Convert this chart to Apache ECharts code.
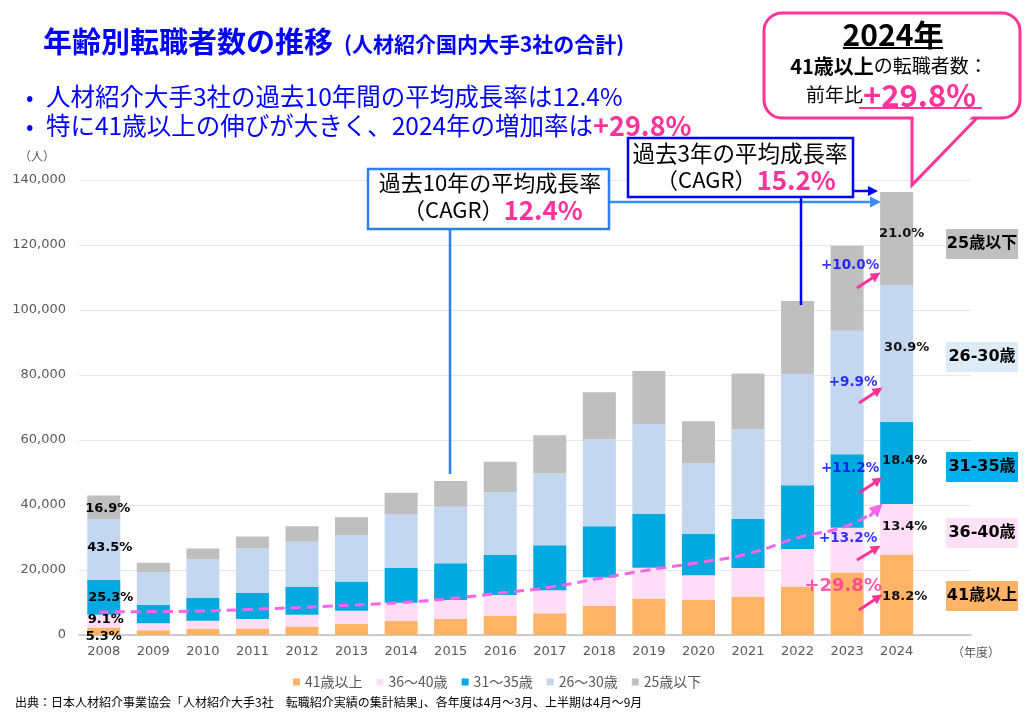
<!DOCTYPE html>
<html>
<head>
<meta charset="utf-8">
<script src="https://cdn.jsdelivr.net/npm/echarts@6/dist/echarts.min.js"></script>
<style>
  html, body { margin: 0; padding: 0; background: #fff; }
  #chart { width: 1031px; height: 720px; }
</style>
</head>
<body>
<div id="chart"></div>
<script>
// 年度
const years = ['2008', '2009', '2010', '2011', '2012', '2013', '2014', '2015', '2016',
  '2017', '2018', '2019', '2020', '2021', '2022', '2023', '2024'];
const ageGroups = ['41歳以上', '36～40歳', '31～35歳', '26～30歳', '25歳以下'];

// 転職者数（人）
const over41 = [2300, 1500, 1900, 2000, 2600, 3400, 4300, 4900, 5900, 6700, 9000, 11200, 10800, 11800, 14900, 19200, 24800];
const age36to40 = [3900, 2100, 2500, 2900, 3600, 4100, 5600, 5900, 6400, 7100, 8700, 9500, 7600, 8800, 11600, 13800, 15500];
const age31to35 = [10800, 5700, 7000, 8100, 8600, 9000, 10800, 11300, 12300, 13800, 15800, 16500, 12700, 15200, 19600, 22600, 25300];
const age26to30 = [18700, 9900, 11900, 13600, 13900, 14300, 16500, 17400, 19300, 22100, 26700, 27700, 21700, 27500, 34200, 38000, 42100];
const under25 = [7200, 3000, 3300, 3700, 4800, 5400, 6600, 7900, 9400, 11800, 14500, 16300, 13000, 17200, 22500, 26200, 28600];

// 構成比ラベル（2008年 / 2024年、下から）
const share2008 = ['5.3%', '9.1%', '25.3%', '43.5%', '16.9%'];
const share2024 = ['18.2%', '13.4%', '18.4%', '30.9%', '21.0%'];
// 前年比（2024年、下から）
const growth2024 = ['+29.8%', '+13.2%', '+11.2%', '+9.9%', '+10.0%'];
// 右側の凡例ボックス
const sideLabels = ['41歳以上', '36-40歳', '31-35歳', '26-30歳', '25歳以下'];

// 41歳以上の伸びを示す破線（年度インデックス, 人）
const trendX = [-0.1, 1, 2, 3, 4, 5, 6, 7, 8, 9, 10, 11, 12, 13, 14, 15, 15.6];
const trendY = [7100, 7200, 7400, 7900, 8500, 9200, 10000, 11200, 12900, 14700, 17400, 20000, 22300, 25000, 29900, 33600, 38500];

const values = [over41, age36to40, age31to35, age26to30, under25];
const colors = ['#FFB366', '#FFDDF6', '#00A9E0', '#C3D7F1', '#BFBFBF'];
const sideColors = ['#FFB366', '#FFE1F7', '#00B0F0', '#DDEBF7', '#BFBFBF'];
const PINK = '#FF3399';
const BLUE = '#0000FF';
const JP = '"Noto Sans CJK JP", sans-serif';
const DV = '"DejaVu Sans", "Noto Sans CJK JP", sans-serif';

const chart = echarts.init(document.getElementById('chart'));

// ラベルの微調整
const off2008 = [[0, 5], [2, -2], [7, 0], [6, -2], [4, 1]];
const off2024 = [[8, 2], [8, -3], [8, -2], [10, -6], [5, -5]];

const barSeries = ageGroups.map((name, k) => ({
  name: name,
  type: 'bar',
  stack: 'total',
  barWidth: 33,
  itemStyle: { color: colors[k] },
  data: values[k].map((v, i) => {
    if (i === 0) {
      return { value: v, label: { show: true, position: 'inside', formatter: share2008[k], offset: off2008[k],
        color: '#000', fontWeight: 'bold', fontSize: 13, fontFamily: DV } };
    }
    if (i === years.length - 1) {
      return { value: v, label: { show: true, position: 'inside', formatter: share2024[k], offset: off2024[k],
        color: '#111', fontWeight: 'bold', fontSize: 13, fontFamily: DV } };
    }
    return v;
  })
}));

// 前年比ラベルと矢印の位置（年度インデックス, 人）
const growthPos = [[14.92, 15100], [15.02, 29800], [15.06, 51100], [15.12, 77800], [15.06, 113800]];
const growthArrows = [
  [[15.24, 7700], [15.63, 11600]],
  [[15.20, 23100], [15.59, 26700]],
  [[15.24, 43700], [15.63, 47600]],
  [[15.24, 71400], [15.63, 75300]],
  [[15.20, 106800], [15.59, 110700]]
];

const extraSeries = [
  {
    type: 'line',
    xAxisIndex: 1,
    smooth: true,
    symbol: 'none',
    z: 4,
    lineStyle: { color: '#F766E8', width: 3, type: [10, 6] },
    data: trendX.map((x, i) => [x, trendY[i]])
  },
  {
    type: 'lines',
    coordinateSystem: 'cartesian2d',
    xAxisIndex: 1,
    z: 4,
    symbol: ['none', 'triangle'],
    symbolSize: 13,
    lineStyle: { color: '#F766E8', width: 3, type: 'solid', opacity: 1 },
    data: [{ coords: [[15.45, 36500], [15.62, 39000]] }]
  },
  {
    type: 'lines',
    coordinateSystem: 'cartesian2d',
    xAxisIndex: 1,
    z: 5,
    symbol: ['none', 'triangle'],
    symbolSize: 10,
    lineStyle: { color: PINK, width: 3, type: 'solid', opacity: 1 },
    data: growthArrows.map(c => ({ coords: c }))
  },
  {
    type: 'scatter',
    xAxisIndex: 1,
    symbolSize: 0,
    z: 6,
    data: growth2024.map((t, i) => ({
      name: t,
      value: growthPos[i],
      label: i === 0
        ? { color: PINK, fontSize: 18, fontWeight: 'bold' }
        : { color: BLUE, fontSize: 13.5, fontWeight: 'bold' }
    })),
    label: { show: true, position: 'inside', formatter: '{b}', fontFamily: DV }
  }
];

// 注釈（タイトル・吹き出し・ボックス）
const g = [];
const txt = (x, y, text, style) => ({
  type: 'text', x: x, y: y, z: 100,
  style: Object.assign({ text: text, align: 'left', verticalAlign: 'middle', fontFamily: JP }, style)
});

g.push(txt(43, 42, '年齢別転職者数の推移', { fontSize: 29, fontWeight: 'bold', fill: BLUE }));
g.push(txt(344, 44, '(人材紹介国内大手3社の合計)', { fontSize: 21, fontWeight: 'bold', fill: BLUE }));
g.push(txt(26, 97, '•', { fontSize: 22, fill: BLUE }));
g.push(txt(46, 97, '人材紹介大手3社の過去10年間の平均成長率は12.4%', { fontSize: 24.5, fill: BLUE }));
g.push(txt(26, 126, '•', { fontSize: 22, fill: BLUE }));
g.push(txt(46, 126, '{n|特に41歳以上の伸びが大きく、2024年の増加率は}{p|+29.8%}', {
  fill: BLUE,
  rich: {
    n: { fontSize: 24.5, fontFamily: JP, fill: BLUE },
    p: { fontSize: 27, fontWeight: 'bold', fontFamily: JP, fill: PINK }
  }
}));
g.push(txt(37, 156, '（人）', { fontSize: 12, fill: '#595959', align: 'center' }));

// 過去10年ボックス
g.push({ type: 'rect', z: 90, shape: { x: 368, y: 169, width: 241, height: 60 },
  style: { fill: '#fff', stroke: '#2F7FE8', lineWidth: 2.5 } });
g.push({ type: 'line', z: 89, shape: { x1: 450, y1: 229, x2: 450, y2: 474 },
  style: { stroke: '#2F7FE8', lineWidth: 2.5 } });
g.push({ type: 'line', z: 89, shape: { x1: 609, y1: 202, x2: 872, y2: 202 },
  style: { stroke: '#3D8BF0', lineWidth: 2.5 } });
g.push({ type: 'polygon', z: 89, shape: { points: [[881, 202], [870, 196.5], [870, 207.5]] },
  style: { fill: '#3D8BF0' } });
g.push(txt(490, 183, '過去10年の平均成長率', { fontSize: 22, fill: '#000', align: 'center' }));
g.push(txt(493, 210, '{n|（CAGR）}{p|12.4%}', {
  align: 'center',
  rich: {
    n: { fontSize: 22, fontFamily: JP, fill: '#000' },
    p: { fontSize: 26, fontWeight: 'bold', fontFamily: JP, fill: PINK }
  }
}));

// 過去3年ボックス
g.push({ type: 'rect', z: 90, shape: { x: 628, y: 138, width: 225, height: 59 },
  style: { fill: '#fff', stroke: BLUE, lineWidth: 2.5 } });
g.push({ type: 'line', z: 89, shape: { x1: 801, y1: 197, x2: 801, y2: 305 },
  style: { stroke: BLUE, lineWidth: 2.5 } });
g.push({ type: 'line', z: 89, shape: { x1: 853, y1: 191, x2: 869, y2: 191 },
  style: { stroke: BLUE, lineWidth: 2.5 } });
g.push({ type: 'polygon', z: 89, shape: { points: [[878, 191], [868, 186], [868, 196]] },
  style: { fill: BLUE } });
g.push(txt(740, 153, '過去3年の平均成長率', { fontSize: 22.5, fill: '#000', align: 'center' }));
g.push(txt(746, 180, '{n|（CAGR）}{p|15.2%}', {
  align: 'center',
  rich: {
    n: { fontSize: 22, fontFamily: JP, fill: '#000' },
    p: { fontSize: 26, fontWeight: 'bold', fontFamily: JP, fill: PINK }
  }
}));

// 吹き出し
g.push({ type: 'rect', z: 90, shape: { x: 764, y: 13, width: 256, height: 105, r: 18 },
  style: { fill: '#fff', stroke: PINK, lineWidth: 3 } });
g.push({ type: 'polygon', z: 91, shape: { points: [[913.5, 115.5], [913.5, 182], [973, 115.5]] },
  style: { fill: '#fff' } });
g.push({ type: 'polyline', z: 92, shape: { points: [[912, 118], [912, 185], [977, 118]] },
  style: { stroke: PINK, lineWidth: 3, fill: null } });
g.push(txt(893, 35, '2024年', { fontSize: 30, fontWeight: 'bold', fill: '#000', align: 'center' }));
g.push({ type: 'line', z: 100, shape: { x1: 843, y1: 48, x2: 943, y2: 48 },
  style: { stroke: '#000', lineWidth: 2 } });
g.push(txt(889, 66, '{b|41歳以上}{n|の転職者数：}', {
  align: 'center',
  rich: {
    b: { fontSize: 20, fontWeight: 'bold', fontFamily: JP, fill: '#000' },
    n: { fontSize: 19, fontFamily: JP, fill: '#000' }
  }
}));
g.push(txt(891, 95, '{n|前年比}{p|+29.8%}', {
  align: 'center',
  rich: {
    n: { fontSize: 19, fontFamily: JP, fill: '#000' },
    p: { fontSize: 31, fontWeight: 'bold', fontFamily: JP, fill: PINK }
  }
}));
g.push({ type: 'line', z: 100, shape: { x1: 859, y1: 108, x2: 982, y2: 108 },
  style: { stroke: PINK, lineWidth: 2 } });

// 右側の年齢区分ボックス
const sideY = [581, 518, 452, 342, 229];
sideLabels.forEach((t, k) => {
  g.push({ type: 'rect', z: 90, shape: { x: 946, y: sideY[k], width: 72, height: 30 },
    style: { fill: sideColors[k] } });
  g.push(txt(982, sideY[k] + 15, t, { fontSize: 16, fontWeight: 'bold', fontFamily: DV, fill: '#000', align: 'center' }));
});

g.push(txt(976, 652, '（年度）', { fontSize: 12, fill: '#595959', align: 'center' }));
g.push(txt(15, 702, '出典：日本人材紹介事業協会「人材紹介大手3社　転職紹介実績の集計結果」、各年度は4月～3月、上半期は4月～9月',
  { fontSize: 12, fill: '#000' }));

chart.setOption({
  animation: false,
  grid: { left: 79, right: 60, top: 180, bottom: 85 },
  xAxis: [
    {
      type: 'category',
      data: years.concat(['']),
      axisLine: { lineStyle: { color: '#BFBFBF', width: 1.5 } },
      axisTick: { show: false },
      axisLabel: { color: '#595959', fontSize: 13, fontFamily: DV, margin: 10 }
    },
    { type: 'value', min: -0.5, max: 17.5, show: false }
  ],
  yAxis: {
    type: 'value',
    min: 0,
    max: 140000,
    interval: 20000,
    axisLine: { show: false },
    axisTick: { show: false },
    splitLine: { lineStyle: { color: '#E6E6E6' } },
    axisLabel: {
      color: '#595959', fontSize: 13, fontFamily: DV, margin: 13,
      formatter: v => v.toLocaleString('en-US')
    }
  },
  legend: {
    data: ageGroups,
    left: 288,
    top: 670,
    icon: 'rect',
    itemWidth: 7,
    itemHeight: 7,
    itemGap: 14,
    textStyle: { color: '#595959', fontSize: 14, fontFamily: JP }
  },
  series: barSeries.concat(extraSeries),
  graphic: { elements: g }
});

window.addEventListener('resize', () => chart.resize());
</script>
</body>
</html>
